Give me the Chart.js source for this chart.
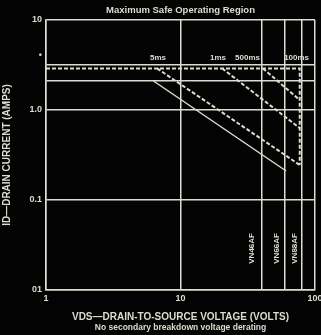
<!DOCTYPE html>
<html>
<head>
<meta charset="utf-8">
<script src="https://cdn.jsdelivr.net/npm/chart.js@4"></script>
<style>
	html, body { margin: 0; padding: 0; background: #030303; }
	canvas { display: block; }
</style>
</head>
<body>
<canvas class="soa-chart" width="321" height="335"></canvas>
<script>
// axis ticks
let xTickValues = [1, 10, 40, 60, 80, 100]
let xTickLabels = ['1', '10', '', '', '', '100']
let yTickValues = [0.01, 0.1, 1, 2.1, 3.2, 4, 10]
let yTickLabels = ['01', '0.1', '1.0', '', '', '•', '10']

// DC limit (solid)
let dcVolts = [6.3, 61]
let dcAmps = [2.1, 0.21]

// pulsed envelope (dashed): 3 A ceiling, then the drop at ~77 V
let envVolts = [1, 77, 77]
let envAmps = [2.9, 2.9, 0.245]

// pulse lines (dashed)
let p5msVolts = [6.7, 77]
let p5msAmps = [2.9, 0.245]
let p1msVolts = [20.4, 77]
let p1msAmps = [2.9, 0.63]
let p500Volts = [41, 77]
let p500Amps = [2.9, 1.29]

let pulseNames = ['5ms', '1ms', '500ms', '100ms']
let deviceNames = ['VN46AF', 'VN66AF', 'VN88AF']

let chartTitle = 'Maximum Safe Operating Region'
let chartNote = 'No secondary breakdown voltage derating'

let ink = '#dedbd0'
let font = "'Liberation Sans', Arial, sans-serif"

function pts(xs, ys) {
	return xs.map(function (v, i) { return { x: v, y: ys[i] } })
}

function lineSet(xs, ys, dashed) {
	return {
		data: pts(xs, ys),
		borderColor: ink,
		borderWidth: dashed ? 2 : 1.5,
		borderDash: dashed ? [4, 2] : [],
		pointRadius: 0,
		fill: false,
	}
}

// label anchors in data units
let pulseAt = [[6.8, 3.8], [19, 3.8], [31.5, 3.8], [73, 3.8]]
let deviceAt = [[34, 0.029], [52, 0.029], [71, 0.029]]

let labelsPlugin = {
	id: 'labels',
	afterDatasetsDraw: function (chart) {
		let c = chart.ctx
		let x = chart.scales.x
		let y = chart.scales.y
		let area = chart.chartArea
		let mid = (area.left + area.right) / 2
		c.save()
		c.fillStyle = ink
		c.textAlign = 'center'
		c.textBaseline = 'middle'
		c.font = 'bold 8px ' + font
		for (let i = 0; i < pulseNames.length; i++) {
			c.fillText(pulseNames[i], x.getPixelForValue(pulseAt[i][0]), y.getPixelForValue(pulseAt[i][1]))
		}
		for (let i = 0; i < deviceNames.length; i++) {
			c.save()
			c.translate(x.getPixelForValue(deviceAt[i][0]), y.getPixelForValue(deviceAt[i][1]))
			c.rotate(-Math.PI / 2)
			c.fillText(deviceNames[i], 0, 0)
			c.restore()
		}
		// title and footnote centred over the plot, like the datasheet
		c.font = 'bold 9.5px ' + font
		c.fillText(chartTitle, mid, area.top - 10)
		c.font = 'bold 8.5px ' + font
		c.fillText(chartNote, mid, area.bottom + 38)
		c.restore()
	},
}

let canvas = document.querySelector('.soa-chart')

let chart = new Chart(canvas, {
	type: 'line',
	data: {
		datasets: [
			lineSet(dcVolts, dcAmps, false),
			lineSet(envVolts, envAmps, true),
			lineSet(p5msVolts, p5msAmps, true),
			lineSet(p1msVolts, p1msAmps, true),
			lineSet(p500Volts, p500Amps, true),
		],
	},
	options: {
		responsive: false,
		devicePixelRatio: 1,
		animation: false,
		layout: { padding: { left: 0, right: 6, top: 20, bottom: 0 } },
		scales: {
			x: {
				type: 'logarithmic',
				min: 1,
				max: 100,
				afterBuildTicks: function (scale) {
					scale.ticks = xTickValues.map(function (v) { return { value: v } })
				},
				afterFit: function (scale) {
					scale.height = 45
					scale.paddingLeft = 0
					scale.paddingRight = 0
				},
				ticks: {
					autoSkip: false,
					maxRotation: 0,
					padding: 3,
					color: ink,
					font: { family: font, size: 9, weight: 'bold' },
					callback: function (v) {
						let i = xTickValues.indexOf(v)
						return i >= 0 ? xTickLabels[i] : ''
					},
				},
				grid: { color: ink, lineWidth: 1.5, drawTicks: false },
				border: { color: ink, width: 1.5 },
				title: {
					display: true,
					text: 'VDS—DRAIN-TO-SOURCE VOLTAGE (VOLTS)',
					color: ink,
					font: { family: font, size: 10, weight: 'bold' },
					padding: { top: 0, bottom: 12 },
				},
			},
			y: {
				type: 'logarithmic',
				min: 0.01,
				max: 10,
				afterBuildTicks: function (scale) {
					scale.ticks = yTickValues.map(function (v) { return { value: v } })
				},
				afterFit: function (scale) {
					scale.width = 46
					scale.paddingTop = 0
					scale.paddingBottom = 0
				},
				ticks: {
					autoSkip: false,
					padding: 4,
					color: ink,
					font: { family: font, size: 9, weight: 'bold' },
					callback: function (v) {
						let i = yTickValues.indexOf(v)
						return i >= 0 ? yTickLabels[i] : ''
					},
				},
				grid: {
					color: function (ctx) {
						return ctx.tick && ctx.tick.value === 4 ? 'rgba(0,0,0,0)' : ink
					},
					lineWidth: 1.5,
					drawTicks: false,
				},
				border: { color: ink, width: 1.5 },
				title: {
					display: true,
					text: 'ID—DRAIN CURRENT (AMPS)',
					color: ink,
					font: { family: font, size: 10, weight: 'bold' },
					padding: { top: 1, bottom: 0 },
				},
			},
		},
		plugins: {
			legend: { display: false },
			tooltip: { enabled: false },
		},
	},
	plugins: [labelsPlugin],
})
</script>
</body>
</html>
